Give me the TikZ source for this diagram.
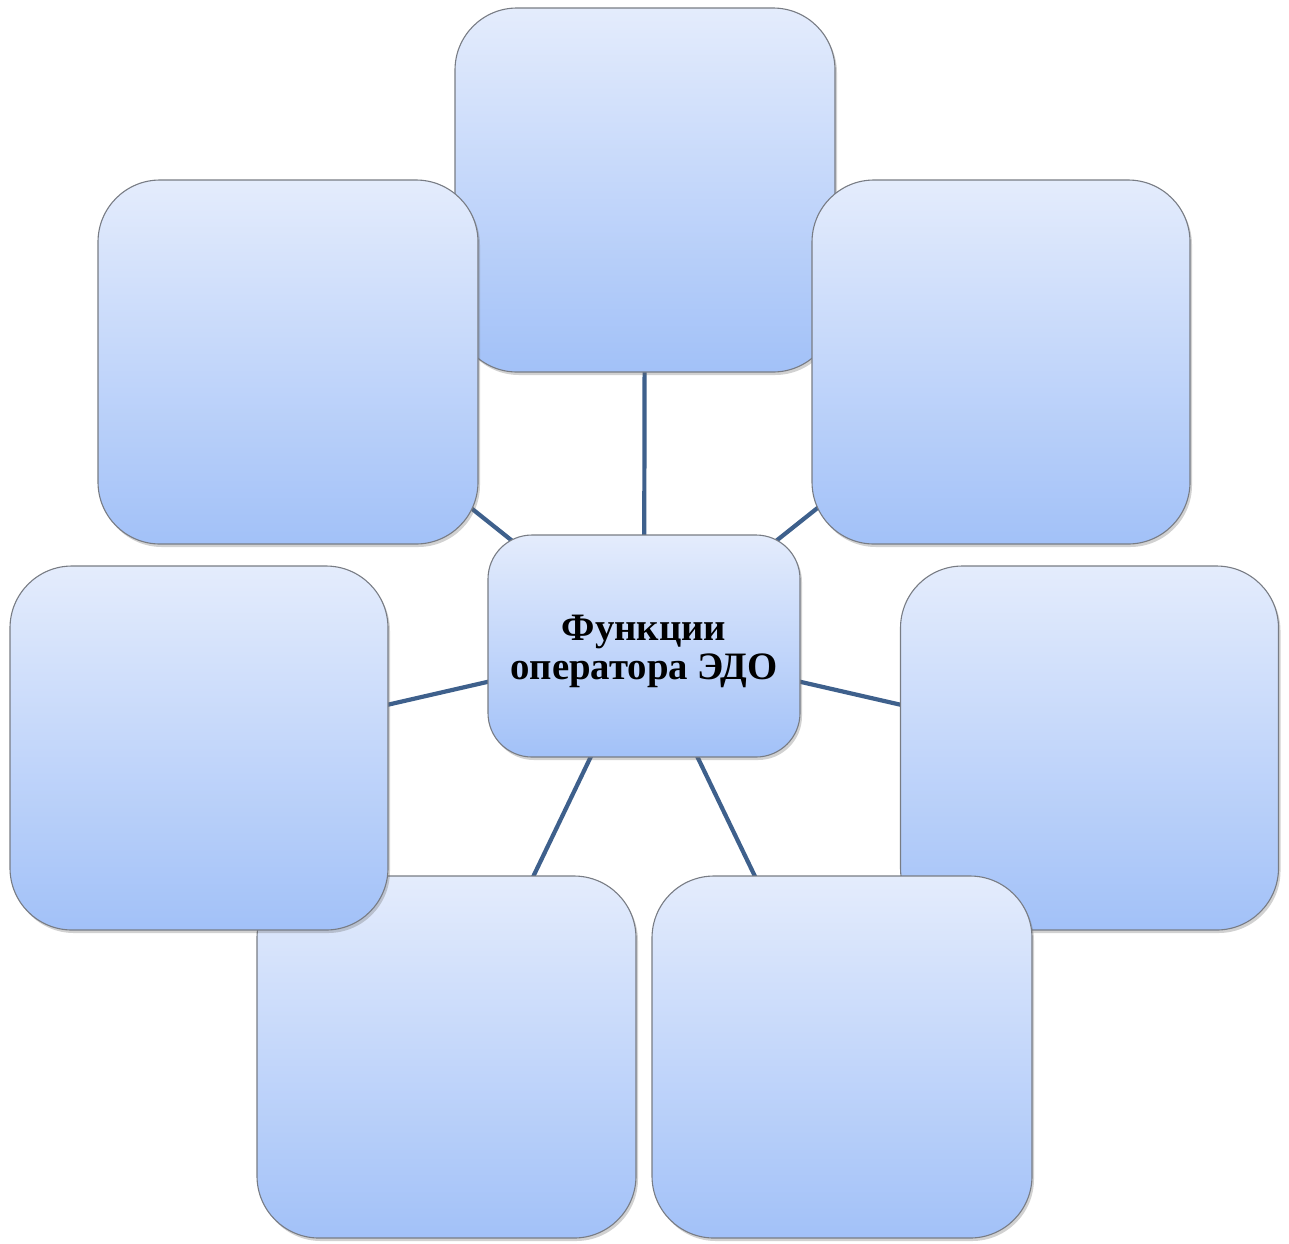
\documentclass[tikz,border=0pt]{standalone}
\usepackage{fontspec}
\setmainfont{Liberation Serif}
\usetikzlibrary{shadows,backgrounds}
\definecolor{boxtop}{RGB}{228,236,252}
\definecolor{boxbot}{RGB}{162,193,248}
\definecolor{boxedge}{RGB}{120,124,132}
\definecolor{conn}{RGB}{62,96,140}
\tikzset{
  box/.style={rectangle, rounded corners=62pt, draw=boxedge, line width=1.1pt,
    top color=boxtop, bottom color=boxbot, minimum width=380pt, minimum height=364pt,
    inner sep=0pt,
    drop shadow={shadow xshift=2pt, shadow yshift=-3pt, opacity=0.3, fill=black!60}},
  hub/.style={box, rounded corners=44pt, minimum width=312pt, minimum height=222pt,
    align=center, font=\fontsize{38.8}{39.5}\selectfont\bfseries},
  link/.style={draw=conn, line width=4.2pt}
}
\begin{document}
\begin{tikzpicture}[x=1pt,y=-1pt]
\useasboundingbox (0,0) rectangle (1289,1243);
\node[box] (t) at (645,190) {};
\node[box] (ul) at (288,362) {};
\node[box, minimum width=378pt] (ur) at (1001,362) {};
\node[box, minimum width=378pt] (r) at (1089.5,748) {};
\node[box, minimum height=362pt] (br) at (842,1057) {};
\node[box, minimum width=379pt, minimum height=362pt] (bl) at (446.5,1057) {};
\node[box, minimum width=378pt] (l) at (199,748) {};
\node[hub] (c) at (644,646) {\rule{0pt}{36pt}Функции\\оператора ЭДО};
\begin{pgfonlayer}{background}
\foreach \n in {t,ul,ur,r,br,bl,l}
  \draw[link] (c.center) -- (\n.center);
\end{pgfonlayer}
\end{tikzpicture}
\end{document}
